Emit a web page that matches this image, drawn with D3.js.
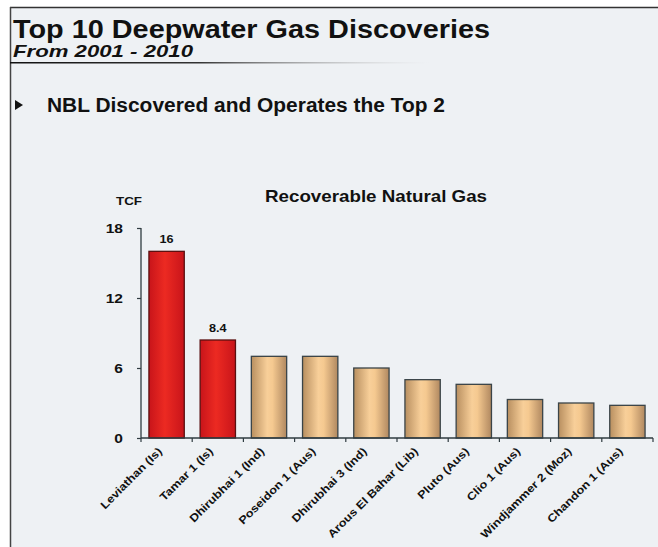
<!DOCTYPE html>
<html><head><meta charset="utf-8">
<script src="https://cdn.jsdelivr.net/npm/d3@7"></script>
<style>
html,body{margin:0;padding:0;background:#fff;}
svg{display:block;font-family:"Liberation Sans",Arial,sans-serif;}
</style></head>
<body>
<svg id="c" width="658" height="547"></svg>
<script>
const categories = ["Leviathan (Is)","Tamar 1 (Is)","Dhirubhai 1 (Ind)","Poseidon 1 (Aus)","Dhirubhai 3 (Ind)","Arous El Bahar (Lib)","Pluto (Aus)","Clio 1 (Aus)","Windjammer 2 (Moz)","Chandon 1 (Aus)"];
const values = [16, 8.4, 7.0, 7.0, 6.0, 5.0, 4.6, 3.3, 3.0, 2.8];
const nblOperated = [true, true, false, false, false, false, false, false, false, false];
const dataLabels = ["16", "8.4", "", "", "", "", "", "", "", ""];
const yTicks = [0, 6, 12, 18];

const svg = d3.select("#c");
const defs = svg.append("defs");
const gTan = defs.append("linearGradient").attr("id","tan").attr("x1","0").attr("x2","1").attr("y1","0").attr("y2","0");
gTan.append("stop").attr("offset","0").attr("stop-color","#b88f60");
gTan.append("stop").attr("offset","0.45").attr("stop-color","#f8cf99");
gTan.append("stop").attr("offset","0.6").attr("stop-color","#f5c990");
gTan.append("stop").attr("offset","1").attr("stop-color","#b08860");
const gRed = defs.append("linearGradient").attr("id","red").attr("x1","0").attr("x2","1").attr("y1","0").attr("y2","0");
gRed.append("stop").attr("offset","0").attr("stop-color","#c8141a");
gRed.append("stop").attr("offset","0.45").attr("stop-color","#ec2a22");
gRed.append("stop").attr("offset","1").attr("stop-color","#c8141a");
const gLine = defs.append("linearGradient").attr("id","rule").attr("x1","0").attr("x2","1");
gLine.append("stop").attr("offset","0").attr("stop-color","#111");
gLine.append("stop").attr("offset","0.45").attr("stop-color","#333");
gLine.append("stop").attr("offset","1").attr("stop-color","#ccc").attr("stop-opacity","0");

function stretch(sel, k) {
  sel.each(function(){
    const w = this.getComputedTextLength();
    d3.select(this).attr("textLength", w*k).attr("lengthAdjust","spacingAndGlyphs");
  });
}
function fitTo(sel, w) {
  sel.attr("textLength", w).attr("lengthAdjust","spacingAndGlyphs");
}

// background + frame
svg.append("rect").attr("x",0).attr("y",0).attr("width",658).attr("height",547).attr("fill","#ffffff");
svg.append("rect").attr("x",10).attr("y",7).attr("width",648).attr("height",540).attr("fill","#eef1f4");
svg.append("line").attr("x1",10).attr("x2",658).attr("y1",7.5).attr("y2",7.5).attr("stroke","#333").attr("stroke-width",1.5);
svg.append("line").attr("x1",10.5).attr("x2",10.5).attr("y1",7).attr("y2",547).attr("stroke","#444").attr("stroke-width",1.5);

// titles
fitTo(svg.append("text").attr("x",13).attr("y",38).attr("font-size",25).attr("font-weight","bold").attr("fill","#111").text("Top 10 Deepwater Gas Discoveries"), 477);
fitTo(svg.append("text").attr("x",13).attr("y",57).attr("font-size",17).attr("font-weight","bold").attr("font-style","italic").attr("fill","#111").text("From 2001 - 2010"), 180);
svg.append("rect").attr("x",10).attr("y",62).attr("width",420).attr("height",1.5).attr("fill","url(#rule)");
svg.append("path").attr("d","M15,100 L23,105 L15,110 Z").attr("fill","#111");
fitTo(svg.append("text").attr("x",47).attr("y",112).attr("font-size",20).attr("font-weight","bold").attr("fill","#111").text("NBL Discovered and Operates the Top 2"), 398);

// chart
const x0 = 141, x1 = 653, yBase = 438, yTop = 228;
const x = d3.scaleBand().domain(categories).range([x0, x1]).paddingInner(0.31).paddingOuter(0.155);
const y = d3.scaleLinear().domain([0, 18]).range([yBase, yTop]);

fitTo(svg.append("text").attr("x",265).attr("y",202).attr("font-size",16.5).attr("font-weight","bold").attr("fill","#111").text("Recoverable Natural Gas"), 222);
fitTo(svg.append("text").attr("x",116).attr("y",205).attr("font-size",11.5).attr("font-weight","bold").attr("fill","#111").text("TCF"), 26);

const bars = svg.append("g");
bars.selectAll("rect").data(values).join("rect")
  .attr("x",(d,i)=>x(categories[i]))
  .attr("y",d=>y(d))
  .attr("width",x.bandwidth())
  .attr("height",d=>yBase-y(d))
  .attr("fill",(d,i)=>nblOperated[i]?"url(#red)":"url(#tan)")
  .attr("stroke",(d,i)=>nblOperated[i]?"#5a1010":"#3a4448")
  .attr("stroke-width",1.3);

stretch(svg.append("g").selectAll("text").data(values).join("text")
  .attr("x",(d,i)=>x(categories[i])+x.bandwidth()/2)
  .attr("y",d=>y(d)-8)
  .attr("text-anchor","middle").attr("font-size",11.5).attr("font-weight","bold").attr("fill","#111")
  .text((d,i)=>dataLabels[i]), 1.1);

// y axis
const yAxis = d3.axisLeft(y).tickValues(yTicks).tickSize(4).tickPadding(14);
const gy = svg.append("g").attr("transform",`translate(${x0},0)`).call(yAxis);
gy.select(".domain").attr("stroke","#2f3b40").attr("stroke-width",1.3).attr("d",`M0,${yBase}V${yTop}`);
gy.selectAll(".tick line").attr("stroke","#2f3b40").attr("stroke-width",1.2);
gy.selectAll(".tick text").attr("font-size",13.5).attr("font-weight","bold").attr("fill","#111").attr("font-family","Liberation Sans, Arial, sans-serif");
stretch(gy.selectAll(".tick text"), 1.15);

// x axis
const gx = svg.append("g").attr("transform",`translate(0,${yBase})`);
gx.append("line").attr("x1",x0).attr("x2",x1).attr("y1",0).attr("y2",0).attr("stroke","#2f3b40").attr("stroke-width",1.3);
const tickPos = d3.range(categories.length+1).map(i=>x0+i*((x1-x0)/categories.length));
gx.selectAll(".xt").data(tickPos).join("line").attr("class","xt")
  .attr("x1",d=>d).attr("x2",d=>d).attr("y1",0).attr("y2",4).attr("stroke","#2f3b40").attr("stroke-width",1.2);
const xl = gx.selectAll(".xl").data(categories).join("text").attr("class","xl")
  .attr("transform",d=>`translate(${x(d)+x.bandwidth()/2-4},${14}) rotate(-45)`)
  .attr("text-anchor","end").attr("font-size",11).attr("font-weight","bold").attr("fill","#111")
  .text(d=>d);
stretch(xl, 1.15);
</script>
</body></html>
